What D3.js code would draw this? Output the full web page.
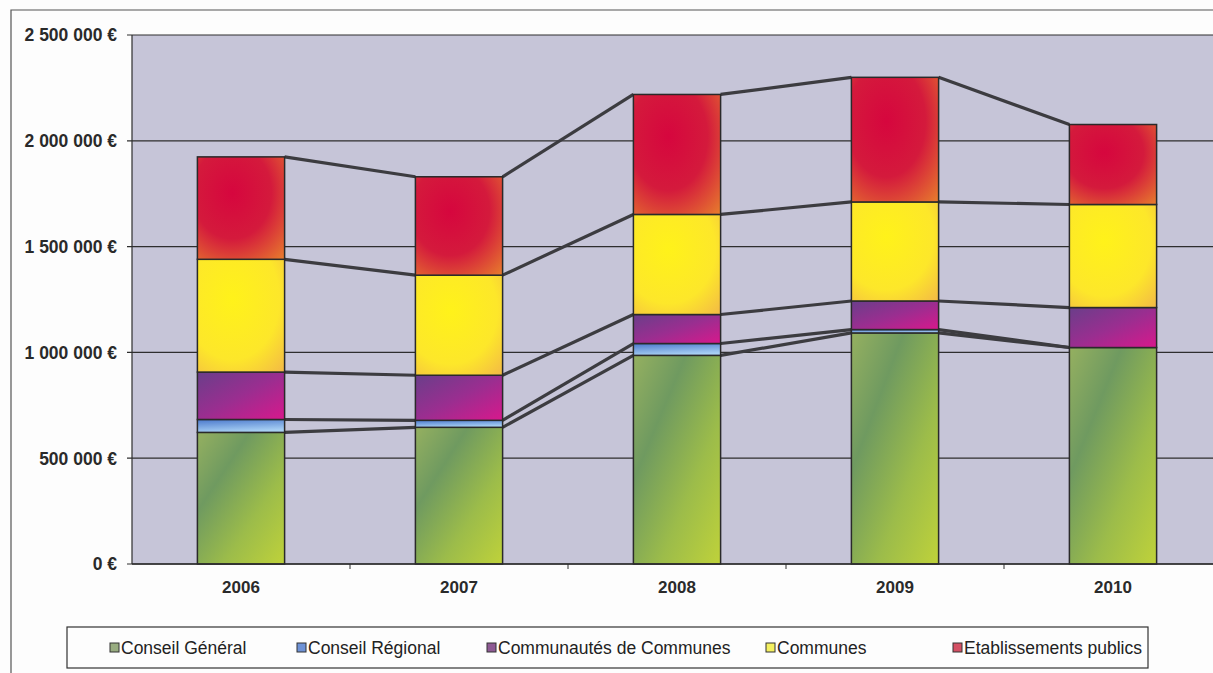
<!DOCTYPE html>
<html>
<head>
<meta charset="utf-8">
<script src="https://cdn.jsdelivr.net/npm/d3@7"></script>
<style>
  body { margin: 0; background: #fdfdfd; }
  text { font-family: Arial, "Liberation Sans", sans-serif; }
</style>
</head>
<body>
<div id="chart"></div>
<script>
const years = ['2006', '2007', '2008', '2009', '2010']
const seriesNames = ['Conseil Général', 'Conseil Régional', 'Communautés de Communes', 'Communes', 'Etablissements publics']
const conseilGeneral = [622000, 646000, 986000, 1092000, 1023000]
const conseilRegional = [61000, 33000, 56000, 16000, 0]
const communautes = [224000, 213000, 137000, 135000, 189000]
const communes = [533000, 473000, 473000, 468000, 487000]
const etablissements = [484000, 465000, 567000, 589000, 378000]
const yTicks = [0, 500000, 1000000, 1500000, 2000000, 2500000]

window.onload = function () {
  const width = 1213
  const height = 673

  const svg = d3.select('#chart')
    .append('svg')
    .attr('width', width)
    .attr('height', height)

  // table for d3.stack
  const keys = ['cg', 'cr', 'cc', 'com', 'etab']
  const table = years.map(function (y, i) {
    return { year: y, cg: conseilGeneral[i], cr: conseilRegional[i], cc: communautes[i], com: communes[i], etab: etablissements[i] }
  })
  const stacked = d3.stack().keys(keys)(table)

  const left = 132, top = 35, bottom = 564
  const right = left + 5 * 218

  const x = d3.scaleBand().domain(years).range([left, right]).paddingInner(0.6).paddingOuter(0.3)
  const y = d3.scaleLinear().domain([0, 2500000]).range([bottom, top])

  // gradients
  const defs = svg.append('defs')
  function linGrad (id, x1, y1, x2, y2, stops) {
    const g = defs.append('linearGradient').attr('id', id)
      .attr('x1', x1).attr('y1', y1).attr('x2', x2).attr('y2', y2)
    stops.forEach(function (s) { g.append('stop').attr('offset', s[0]).attr('stop-color', s[1]) })
  }
  function radGrad (id, cx, cy, r, stops) {
    const g = defs.append('radialGradient').attr('id', id)
      .attr('cx', cx).attr('cy', cy).attr('r', r)
    stops.forEach(function (s) { g.append('stop').attr('offset', s[0]).attr('stop-color', s[1]) })
  }
  linGrad('g-cg', 0, 0, 1, 1, [[0, '#95b060'], [0.3, '#6f9a60'], [0.65, '#9cbc4a'], [1, '#bfd23a']])
  linGrad('g-cr', 0, 0, 0.3, 1, [[0, '#4a78cc'], [1, '#a8d0f4']])
  linGrad('g-cc', 0, 0, 1, 1, [[0, '#6a3e8a'], [0.5, '#9a2e90'], [1, '#d8188c']])
  radGrad('g-com', 0.4, 0.35, 0.9, [[0, '#fff21a'], [0.6, '#fde72a'], [1, '#f2b648']])
  radGrad('g-etab', 0.4, 0.35, 0.9, [[0, '#d6063e'], [0.5, '#d41a3c'], [1, '#e8822c']])
  const fills = ['url(#g-cg)', 'url(#g-cr)', 'url(#g-cc)', 'url(#g-com)', 'url(#g-etab)']
  const legendColors = ['#98ac80', '#6e92d6', '#8e5a94', '#f4f060', '#d45064']

  // outer frame
  svg.append('path')
    .attr('d', 'M11,673 L11,10 L1213,10')
    .attr('fill', 'none')
    .attr('stroke', '#555')
    .attr('stroke-width', 1.2)

  // plot background
  svg.append('rect')
    .attr('x', left).attr('y', top)
    .attr('width', right - left).attr('height', bottom - top)
    .attr('fill', '#c6c5d8')

  // gridlines
  svg.selectAll('.grid')
    .data(yTicks)
    .enter().append('line')
    .attr('class', 'grid')
    .attr('x1', left - 5).attr('x2', right)
    .attr('y1', function (d) { return y(d) })
    .attr('y2', function (d) { return y(d) })
    .attr('stroke', '#2e2e2e')
    .attr('stroke-width', 1.2)

  svg.append('line')
    .attr('x1', left).attr('x2', left).attr('y1', top).attr('y2', bottom)
    .attr('stroke', '#2e2e2e').attr('stroke-width', 1.2)

  // y labels
  const fmt = function (d) { return d3.format(',')(d).replace(/,/g, ' ') + ' €' }
  svg.selectAll('.ylab')
    .data(yTicks)
    .enter().append('text')
    .attr('class', 'ylab')
    .attr('x', 117)
    .attr('y', function (d) { return y(d) })
    .attr('dy', '0.36em')
    .attr('text-anchor', 'end')
    .attr('font-size', 17.5)
    .attr('font-weight', 'bold')
    .attr('fill', '#2a2a2a')
    .text(fmt)

  // x ticks at category boundaries
  svg.selectAll('.xtick')
    .data(years.slice(1))
    .enter().append('line')
    .attr('class', 'xtick')
    .attr('x1', function (d) { return x(d) - x.step() * 0.3 })
    .attr('x2', function (d) { return x(d) - x.step() * 0.3 })
    .attr('y1', bottom).attr('y2', bottom + 5)
    .attr('stroke', '#2e2e2e')

  svg.selectAll('.xlab')
    .data(years)
    .enter().append('text')
    .attr('class', 'xlab')
    .attr('x', function (d) { return x(d) + x.bandwidth() / 2 })
    .attr('y', 593)
    .attr('text-anchor', 'middle')
    .attr('font-size', 17)
    .attr('font-weight', 'bold')
    .attr('fill', '#2a2a2a')
    .text(function (d) { return d })

  // series lines between bars
  stacked.forEach(function (s) {
    for (let i = 0; i < years.length - 1; i++) {
      svg.append('line')
        .attr('x1', x(years[i]) + x.bandwidth())
        .attr('y1', y(s[i][1]))
        .attr('x2', x(years[i + 1]))
        .attr('y2', y(s[i + 1][1]))
        .attr('stroke', '#3c3c40')
        .attr('stroke-width', 3.2)
    }
  })

  // bars
  stacked.forEach(function (s, k) {
    svg.selectAll('.bar-' + k)
      .data(s)
      .enter().append('rect')
      .attr('class', 'bar-' + k)
      .attr('x', function (d) { return x(d.data.year) })
      .attr('y', function (d) { return y(d[1]) })
      .attr('width', x.bandwidth())
      .attr('height', function (d) { return y(d[0]) - y(d[1]) })
      .attr('fill', fills[k])
      .attr('stroke', '#2a2a2a')
      .attr('stroke-width', 1.5)
  })

  // x axis line
  svg.append('line')
    .attr('x1', left).attr('x2', right).attr('y1', bottom).attr('y2', bottom)
    .attr('stroke', '#2e2e2e').attr('stroke-width', 1.5)

  // legend
  svg.append('rect')
    .attr('x', 67).attr('y', 627)
    .attr('width', 1081).attr('height', 41)
    .attr('fill', '#fdfdfd')
    .attr('stroke', '#333')
    .attr('stroke-width', 1.2)

  const legendX = [110, 297, 487, 766, 953]
  const items = svg.selectAll('.leg')
    .data(seriesNames)
    .enter().append('g')
    .attr('class', 'leg')
    .attr('transform', function (d, i) { return 'translate(' + legendX[i] + ',648)' })
  items.append('rect')
    .attr('x', 0).attr('y', -5)
    .attr('width', 9).attr('height', 9)
    .attr('fill', function (d, i) { return legendColors[i] })
    .attr('stroke', '#333')
  items.append('text')
    .attr('x', 11)
    .attr('dy', '0.36em')
    .attr('font-size', 17.5)
    .attr('fill', '#222')
    .text(function (d) { return d })
}
</script>
</body>
</html>
